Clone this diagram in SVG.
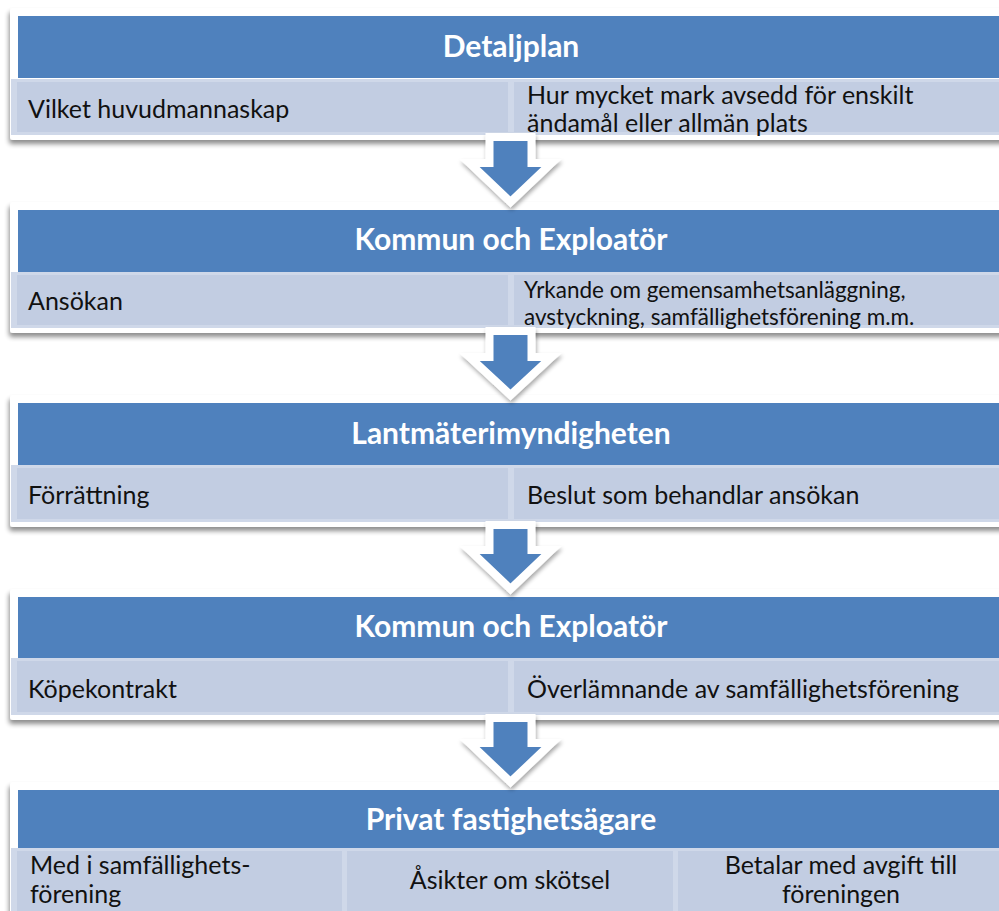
<svg xmlns="http://www.w3.org/2000/svg" width="999" height="911" viewBox="0 0 999 911">
<defs>
<filter id="sh" x="-5%" y="-20%" width="110%" height="150%">
<feGaussianBlur in="SourceAlpha" stdDeviation="2.5"/>
<feOffset dx="-1" dy="4" result="b"/>
<feComponentTransfer><feFuncA type="linear" slope="0.45"/></feComponentTransfer>
<feMerge><feMergeNode/><feMergeNode in="SourceGraphic"/></feMerge>
</filter>
<filter id="ash" x="-30%" y="-30%" width="160%" height="160%">
<feGaussianBlur in="SourceAlpha" stdDeviation="2"/>
<feOffset dx="1" dy="3" result="b"/>
<feComponentTransfer><feFuncA type="linear" slope="0.35"/></feComponentTransfer>
<feMerge><feMergeNode/><feMergeNode in="SourceGraphic"/></feMerge>
</filter>
</defs>
<style>
.frame{fill:#ffffff;filter:url(#sh)}
.hdr{fill:#4F81BD}
.row{fill:#CFD8E9}
.cell{fill:#C2CDE2}
.ht{font-family:Lato,"Open Sans",sans-serif;font-weight:bold;font-size:30px;fill:#ffffff;text-anchor:middle}
.bt{font-family:Lato,"Open Sans",sans-serif;font-size:25px;fill:#111111}
.st{font-family:Lato,"Open Sans",sans-serif;font-size:22.5px;fill:#111111}
.mid{text-anchor:middle}
.arrow{fill:#4F81BD;stroke:#ffffff;stroke-width:8;stroke-linejoin:miter;filter:url(#ash)}
</style>
<rect width="999" height="911" fill="#ffffff"/>

<g id="block1">
<rect class="frame" x="10" y="8" width="1000" height="132" rx="3"/>
<rect class="hdr" x="18" y="16" width="990" height="62"/>
<rect class="row" x="11" y="79" width="999" height="56"/>
<rect class="cell" x="17" y="82" width="491" height="50"/>
<rect class="cell" x="514" y="82" width="496" height="50"/>
<text class="ht" x="511" y="57">Detaljplan</text>
<text class="bt" x="28" y="118">Vilket huvudmannaskap</text>
<text class="bt" x="527" y="104">Hur mycket mark avsedd för enskilt</text>
<text class="bt" x="527" y="132">ändamål eller allmän plats</text>
</g>

<g id="block2">
<rect class="frame" x="10" y="202" width="1000" height="131" rx="3"/>
<rect class="hdr" x="18" y="210" width="990" height="62"/>
<rect class="row" x="11" y="272" width="999" height="56"/>
<rect class="cell" x="17" y="275" width="491" height="50"/>
<rect class="cell" x="514" y="275" width="496" height="50"/>
<text class="ht" x="511" y="250">Kommun och Exploatör</text>
<text class="bt" x="28" y="310">Ansökan</text>
<text class="st" x="524" y="298">Yrkande om gemensamhetsanläggning,</text>
<text class="st" x="524" y="325">avstyckning, samfällighetsförening m.m.</text>
</g>

<g id="block3">
<rect class="frame" x="10" y="395" width="1000" height="132" rx="3"/>
<rect class="hdr" x="18" y="403" width="990" height="62"/>
<rect class="row" x="11" y="465" width="999" height="57"/>
<rect class="cell" x="17" y="468" width="491" height="51"/>
<rect class="cell" x="514" y="468" width="496" height="51"/>
<text class="ht" x="511" y="444">Lantmäterimyndigheten</text>
<text class="bt" x="28" y="504">Förrättning</text>
<text class="bt" x="527" y="504">Beslut som behandlar ansökan</text>
</g>

<g id="block4">
<rect class="frame" x="10" y="589" width="1000" height="131" rx="3"/>
<rect class="hdr" x="18" y="597" width="990" height="61"/>
<rect class="row" x="11" y="658" width="999" height="57"/>
<rect class="cell" x="17" y="661" width="491" height="51"/>
<rect class="cell" x="514" y="661" width="496" height="51"/>
<text class="ht" x="511" y="637">Kommun och Exploatör</text>
<text class="bt" x="28" y="698">Köpekontrakt</text>
<text class="bt" x="527" y="698">Överlämnande av samfällighetsförening</text>
</g>

<g id="block5">
<rect class="frame" x="10" y="782" width="1000" height="140" rx="3"/>
<rect class="hdr" x="18" y="790" width="990" height="58"/>
<rect class="row" x="11" y="848" width="999" height="70"/>
<rect class="cell" x="17" y="851" width="325" height="60"/>
<rect class="cell" x="347" y="851" width="326" height="60"/>
<rect class="cell" x="678" y="851" width="332" height="60"/>
<text class="ht" x="511" y="830">Privat fastighetsägare</text>
<text class="bt" x="30" y="874">Med i samfällighets-</text>
<text class="bt" x="30" y="903">förening</text>
<text class="bt mid" x="510" y="889">Åsikter om skötsel</text>
<text class="bt mid" x="841" y="874">Betalar med avgift till</text>
<text class="bt mid" x="841" y="903">föreningen</text>
</g>

<g id="connectors">
<path class="arrow" d="M489.5,137 L531.5,137 L531.5,163 L551.5,163 L510.5,202 L469.5,163 L489.5,163 Z"/>
<path class="arrow" d="M489.5,331 L531.5,331 L531.5,357 L551.5,357 L510.5,395 L469.5,357 L489.5,357 Z"/>
<path class="arrow" d="M489.5,525 L531.5,525 L531.5,550 L551.5,550 L510.5,589 L469.5,550 L489.5,550 Z"/>
<path class="arrow" d="M489.5,718 L531.5,718 L531.5,743 L551.5,743 L510.5,782 L469.5,743 L489.5,743 Z"/>
</g>
</svg>
